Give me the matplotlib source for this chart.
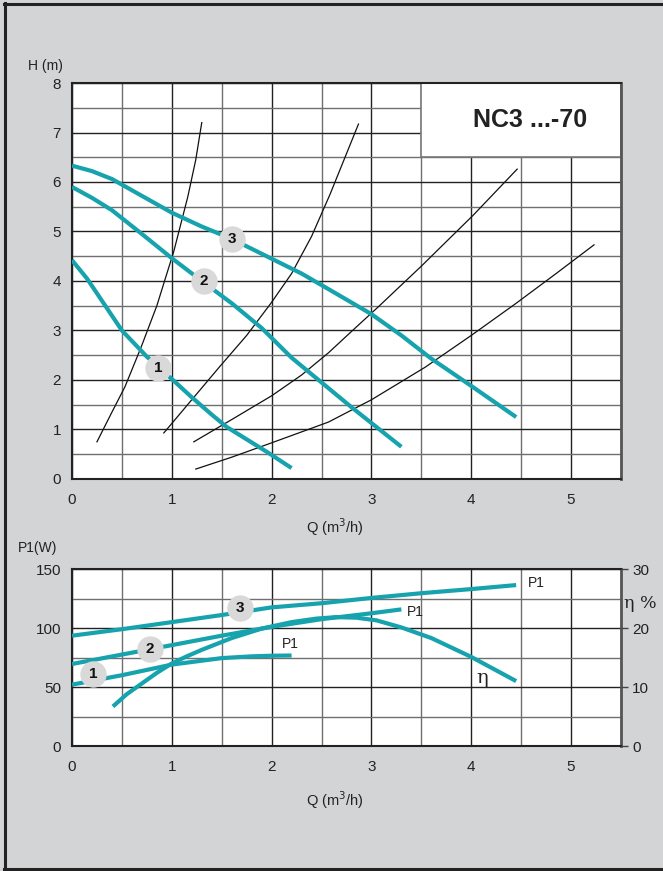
#!/usr/bin/env python3
"""NC3 ...-70 pump curves: head and power/efficiency vs flow."""

import matplotlib
matplotlib.use("Agg")
import matplotlib.pyplot as plt
from matplotlib.patches import Rectangle
from matplotlib.lines import Line2D
from matplotlib.ticker import MultipleLocator

TEAL = "#17a3ad"
BG = "#d3d4d6"
FONT = "Liberation Sans"

# pump curves H(Q), speeds 1..3
Q1 = [0, 0.15, 0.3, 0.5, 0.75, 1.0, 1.2, 1.4, 1.55, 1.75, 1.95, 2.2]
H1 = [4.42, 4.05, 3.6, 3.0, 2.47, 2.02, 1.65, 1.3, 1.05, 0.8, 0.55, 0.22]
Q2 = [0, 0.2, 0.4, 0.7, 1.0, 1.3, 1.6, 1.9, 2.2, 2.5, 2.8, 3.05, 3.3]
H2 = [5.9, 5.68, 5.43, 4.95, 4.46, 4.0, 3.55, 3.05, 2.45, 1.95, 1.45, 1.05, 0.65]
Q3 = [0, 0.2, 0.4, 0.7, 1.0, 1.3, 1.6, 2.0, 2.3, 2.6, 3.0, 3.3, 3.6, 4.0, 4.45]
H3 = [6.33, 6.22, 6.06, 5.72, 5.38, 5.1, 4.85, 4.45, 4.15, 3.8, 3.33, 2.9, 2.43, 1.88, 1.25]

# system curves (thin black)
SYS_Q = [
    [0.25, 0.4, 0.53, 0.69, 0.85, 1.02, 1.16, 1.24, 1.3],
    [0.92, 1.2, 1.48, 1.75, 2.0, 2.2, 2.4, 2.585, 2.87],
    [1.22, 1.6, 2.0, 2.3, 2.57, 2.8, 3.07, 3.5, 4.02, 4.46],
    [1.24, 1.6, 2.0, 2.57, 3.0, 3.54, 4.0, 4.45, 4.85, 5.23],
]
SYS_H = [
    [0.75, 1.35, 1.86, 2.65, 3.5, 4.6, 5.7, 6.45, 7.2],
    [0.93, 1.6, 2.27, 2.9, 3.57, 4.15, 4.9, 5.75, 7.17],
    [0.75, 1.2, 1.68, 2.1, 2.55, 2.98, 3.48, 4.3, 5.33, 6.26],
    [0.2, 0.44, 0.73, 1.15, 1.6, 2.26, 2.9, 3.55, 4.15, 4.73],
]

# power P1(Q)
PQ1 = [0, 0.5, 1.0, 1.5, 1.8, 2.0, 2.2]
P1 = [52, 60, 69, 74.5, 76, 76.5, 76.7]
PQ2 = [0, 0.5, 1.0, 1.5, 2.0, 2.5, 3.0, 3.3]
P2 = [69.5, 77.5, 85.5, 93.5, 101, 107.5, 112.5, 115.8]
PQ3 = [0, 0.5, 1.0, 1.5, 2.0, 2.5, 3.0, 3.5, 4.0, 4.45]
P3 = [93.5, 99, 105, 111, 117.5, 121, 125.5, 129.5, 133, 136.4]

# efficiency (%)
EQ = [0.41, 0.55, 0.7, 0.85, 1.0, 1.15, 1.3, 1.6, 1.9, 2.2, 2.45, 2.65, 2.85, 3.05, 3.3, 3.6, 4.0, 4.45]
ETA = [6.7, 8.8, 10.6, 12.4, 14, 15.2, 16.3, 18.3, 19.9, 21.0, 21.6, 21.85, 21.75, 21.3, 20.1, 18.3, 15.1, 11]

# badge positions
TOP_BADGES = [("1", 0.86, 2.24), ("2", 1.32, 4.0), ("3", 1.6, 4.85)]
BOT_BADGES = [("1", 0.21, 61), ("2", 0.78, 82), ("3", 1.68, 117)]


def style_grid(ax, ymajor, yminor):
    ax.xaxis.set_major_locator(MultipleLocator(1))
    ax.xaxis.set_minor_locator(MultipleLocator(0.5))
    ax.yaxis.set_major_locator(MultipleLocator(ymajor))
    ax.yaxis.set_minor_locator(MultipleLocator(yminor))
    ax.grid(True, which="major", color="#222222", linewidth=1.0)
    ax.grid(True, which="minor", color="#6f6f6f", linewidth=1.0)
    ax.set_axisbelow(True)
    ax.tick_params(which="both", length=0, labelsize=11, labelcolor="#222222")
    ax.tick_params(axis="x", pad=10)
    ax.tick_params(axis="y", pad=8)
    for label in ax.get_xticklabels() + ax.get_yticklabels():
        label.set_fontfamily(FONT)
    for side in ("left", "bottom", "top"):
        ax.spines[side].set_color("#222222")
        ax.spines[side].set_linewidth(1.5)
    ax.spines["right"].set_color("#555555")
    ax.spines["right"].set_linewidth(2.0)


def badge(ax, text, x, y):
    ax.plot(x, y, "o", markersize=19, color="#d9d9d9", markeredgewidth=0, zorder=5)
    ax.text(x, y, text, ha="center", va="center", fontsize=11, fontweight="bold",
            family=FONT, color="#111111", zorder=6)


fig = plt.figure(figsize=(6.63, 8.71), dpi=100)
fig.patch.set_facecolor(BG)

# outer frame
fig.add_artist(Line2D([0.0075, 0.0075], [0.002, 0.996], transform=fig.transFigure,
                      color="#222222", linewidth=2.2))
fig.add_artist(Line2D([0.006, 1.0], [0.995, 0.995], transform=fig.transFigure,
                      color="#222222", linewidth=2.2))
fig.add_artist(Line2D([0.006, 1.0], [0.0025, 0.0025], transform=fig.transFigure,
                      color="#222222", linewidth=2.2))

# ---- head chart
ax = fig.add_axes([0.1086, 0.4501, 0.828, 0.4546])
ax.set_xlim(0, 5.5)
ax.set_ylim(0, 8)
style_grid(ax, 1, 0.5)
ax.set_xticks([0, 1, 2, 3, 4, 5])
ax.set_yticks(range(0, 9))

for q, h in zip(SYS_Q, SYS_H):
    ax.plot(q, h, color="#111111", linewidth=0.9, solid_joinstyle="round", zorder=3)
for q, h in ((Q1, H1), (Q2, H2), (Q3, H3)):
    ax.plot(q, h, color=TEAL, linewidth=3.0, solid_capstyle="butt",
            solid_joinstyle="round", zorder=4)
for text, x, y in TOP_BADGES:
    badge(ax, text, x, y)

ax.add_patch(Rectangle((3.5, 6.5), 2.0, 1.5, facecolor="white", edgecolor="#777777",
                       linewidth=1.2, zorder=2))
ax.text(4.59, 7.25, "NC3 ...-70", ha="center", va="center", fontsize=18,
        fontweight="bold", family=FONT, color="#222222", zorder=6)

fig.text(45 / 663, 1 - 66 / 871, "H (m)", ha="center", va="center", fontsize=10,
         family=FONT, color="#222222")
fig.text(335 / 663, 1 - 527 / 871, "Q (m$^3$/h)", ha="center", va="center",
         fontsize=10.5, family=FONT, color="#222222")

# ---- power / efficiency chart
bx = fig.add_axes([0.1086, 0.1435, 0.828, 0.2032])
bx.set_xlim(0, 5.5)
bx.set_ylim(0, 150)
style_grid(bx, 50, 25)
bx.set_xticks([0, 1, 2, 3, 4, 5])
bx.set_yticks([0, 50, 100, 150])

for q, p in ((PQ1, P1), (PQ2, P2), (PQ3, P3)):
    bx.plot(q, p, color=TEAL, linewidth=3.0, solid_capstyle="butt",
            solid_joinstyle="round", zorder=4)
for text, x, y in BOT_BADGES:
    badge(bx, text, x, y)

ex = bx.twinx()
ex.set_ylim(0, 30)
ex.set_yticks([0, 10, 20, 30])
ex.plot(EQ, ETA, color=TEAL, linewidth=3.0, solid_capstyle="butt",
        solid_joinstyle="round", zorder=4)
ex.tick_params(axis="y", direction="out", length=5, width=1.0, color="#444444",
               labelsize=11, labelcolor="#222222", pad=3)
for label in ex.get_yticklabels():
    label.set_fontfamily(FONT)
for side in ex.spines:
    ex.spines[side].set_visible(False)

bx.text(4.57, 138.5, "P1", ha="left", va="center", fontsize=10, family=FONT, color="#222222")
bx.text(3.36, 114, "P1", ha="left", va="center", fontsize=10, family=FONT, color="#222222")
bx.text(2.1, 86.3, "P1", ha="left", va="center", fontsize=10, family=FONT, color="#222222")
bx.text(4.11, 58, "η", ha="center", va="center", fontsize=14, family="DejaVu Serif",
        color="#222222")

fig.text(38 / 663, 1 - 548 / 871, "P1(W)", ha="center", va="center", fontsize=10,
         family=FONT, color="#222222")
fig.text(640 / 663, 1 - 603 / 871, "η %", ha="center", va="center", fontsize=12.5,
         family=["DejaVu Serif"], color="#222222")
fig.text(335 / 663, 1 - 800 / 871, "Q (m$^3$/h)", ha="center", va="center",
         fontsize=10.5, family=FONT, color="#222222")

fig.savefig("out.png", dpi=100, facecolor=BG)
